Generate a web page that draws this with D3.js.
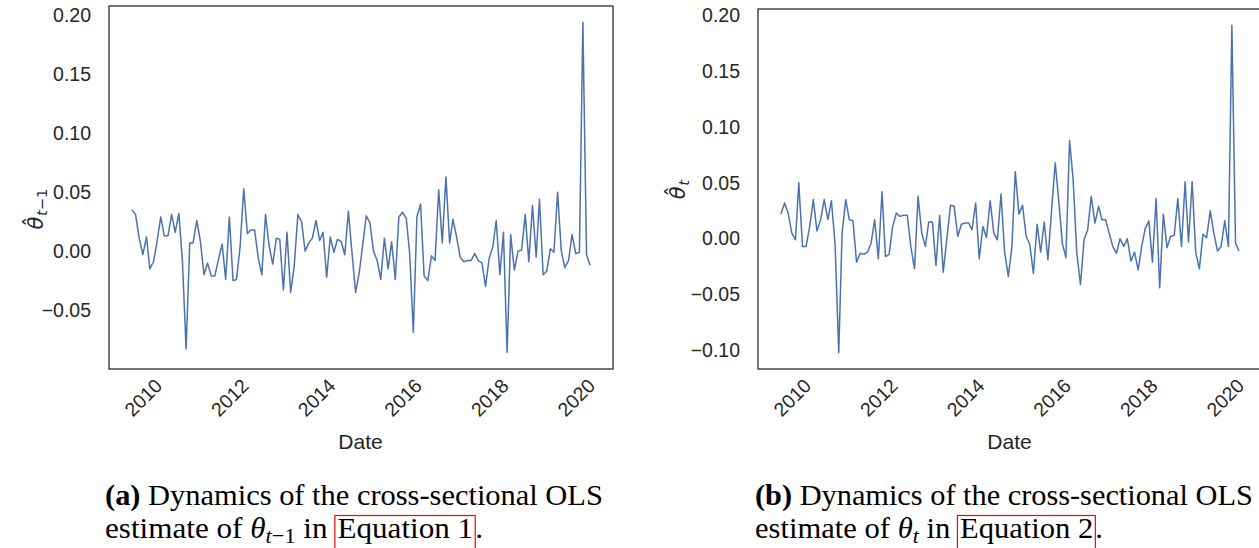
<!DOCTYPE html>
<html>
<head>
<meta charset="utf-8">
<script src="https://cdn.jsdelivr.net/npm/d3@7"></script>
<style>
  body { margin: 0; background: #fff; }
  svg { display: block; }
  text { white-space: pre; }
</style>
</head>
<body>
<svg id="fig" width="1259" height="548"></svg>
<script>
// ---- data -------------------------------------------------------------
const firstMonth = new Date(2009, 9, 1);   // Oct 2009
const lastMonth  = new Date(2020, 4, 1);   // May 2020
const yearTicks  = [2010, 2012, 2014, 2016, 2018, 2020];
const yTicksLag  = [-0.05, 0.00, 0.05, 0.10, 0.15, 0.20];
const yTicksNow  = [-0.10, -0.05, 0.00, 0.05, 0.10, 0.15, 0.20];

// monthly cross-sectional OLS estimate of theta_{t-1} (Equation 1)
const thetaLag = [
   0.035, 0.031, 0.011,-0.003, 0.012,-0.015,-0.009, 0.008, 0.029, 0.013,
   0.013, 0.031, 0.016, 0.032,-0.008,-0.083, 0.007, 0.007, 0.026, 0.009,
  -0.020,-0.010,-0.021,-0.021,-0.007, 0.006,-0.024, 0.029,-0.025,-0.024,
   0.004, 0.053, 0.015, 0.018, 0.018,-0.006,-0.020, 0.031, 0.005,-0.011,
   0.011, 0.010,-0.033, 0.016,-0.035,-0.013, 0.031, 0.025, 0.000, 0.007,
   0.011, 0.026, 0.009, 0.016,-0.022, 0.012,-0.001, 0.010, 0.008,-0.003,
   0.034,-0.002,-0.035,-0.018, 0.007, 0.030, 0.024, 0.000,-0.008,-0.024,
   0.011,-0.015, 0.008,-0.024, 0.029, 0.033, 0.028,-0.002,-0.069, 0.029,
   0.040,-0.021,-0.025,-0.004,-0.008, 0.052, 0.007, 0.063, 0.007, 0.027,
   0.012,-0.005,-0.009,-0.008,-0.008,-0.002,-0.008,-0.010,-0.030,-0.006,
   0.004, 0.026,-0.020, 0.016,-0.086, 0.014,-0.016, 0.000, 0.001, 0.031,
  -0.009, 0.039,-0.005, 0.044,-0.020,-0.017, 0.002,-0.001, 0.050, 0.000,
  -0.014,-0.008, 0.014,-0.002,-0.001, 0.194,-0.003,-0.012
];

// monthly cross-sectional OLS estimate of theta_t (Equation 2)
const thetaNow = [
   0.022, 0.032, 0.023, 0.005,-0.001, 0.050,-0.007,-0.007, 0.011, 0.035,
   0.007, 0.017, 0.035, 0.017, 0.034,-0.005,-0.102, 0.005, 0.035, 0.017,
   0.016,-0.021,-0.013,-0.014,-0.012,-0.004, 0.017,-0.018, 0.042,-0.016,
  -0.014, 0.011, 0.023, 0.020, 0.021, 0.021,-0.007,-0.027, 0.038, 0.005,
  -0.007, 0.015, 0.015,-0.024, 0.021,-0.030, 0.000, 0.030, 0.029, 0.002,
   0.013, 0.014, 0.014, 0.008, 0.032,-0.018, 0.011, 0.001, 0.034, 0.005,
  -0.001, 0.040,-0.012,-0.034,-0.007, 0.060, 0.022, 0.030, 0.002,-0.005,
  -0.031, 0.013,-0.012, 0.015,-0.019, 0.025, 0.068, 0.035,-0.004,-0.017,
   0.088, 0.053,-0.013,-0.041,-0.001, 0.008, 0.038, 0.014, 0.029, 0.017,
   0.017, 0.005,-0.007,-0.013, 0.000,-0.007, 0.000,-0.020,-0.012,-0.028,
  -0.006, 0.009, 0.016,-0.021, 0.036,-0.044, 0.022,-0.008, 0.002, 0.003,
   0.036,-0.007, 0.051,-0.003, 0.051,-0.012,-0.027, 0.004, 0.001, 0.025,
   0.005,-0.011,-0.007, 0.016,-0.007, 0.191,-0.004,-0.011
];

// ---- styling ------------------------------------------------------------
const ink = "#262626";
const lineColor = "#4c72b0";
const sans = "'Liberation Sans', Arial, sans-serif";
const serif = "'Liberation Serif', 'Times New Roman', serif";
const tickSize = 19.5;
const labelSize = 21;

const months = d3.timeMonth.range(firstMonth, d3.timeMonth.offset(lastMonth, 1));
const svg = d3.select("#fig");

function padded([lo, hi]) {
  const p = (hi - lo) * 0.05;
  return [lo - p, hi + p];
}

const panels = [
  { left: 109, top: 6, width: 504, bottom: 369, values: thetaLag, yTicks: yTicksLag,
    sub: [{ t: "t", it: true }, { t: "\u22121", it: false }],
    labelX: 35, labelY: 209,
    tag: "(a)", eq: "Equation 1", capX: 105, line2W: 378 },
  { left: 758, top: 9, width: 504, bottom: 369, values: thetaNow, yTicks: yTicksNow,
    sub: [{ t: "t", it: true }],
    labelX: 677, labelY: 189,
    tag: "(b)", eq: "Equation 2", capX: 755, line2W: 348 }
];

panels.forEach(p => {
  const g = svg.append("g");
  const series = months.map((d, i) => ({ date: d, v: p.values[i] }));

  const xDom = padded(d3.extent(months, d => +d));
  const x = d3.scaleTime().domain(xDom.map(v => new Date(v))).range([p.left, p.left + p.width]);
  const y = d3.scaleLinear().domain(padded(d3.extent(p.values))).range([p.bottom, p.top]);

  // y axis tick labels
  const ya = g.append("g")
    .attr("transform", `translate(${p.left},0)`)
    .call(d3.axisLeft(y).tickValues(p.yTicks).tickSize(0).tickPadding(18).tickFormat(d3.format(".2f")));
  ya.select(".domain").remove();
  ya.selectAll("text").attr("font-family", sans).attr("font-size", tickSize).attr("fill", ink);

  // x axis: rotated year labels
  const xa = g.append("g")
    .attr("transform", `translate(0,${p.bottom})`)
    .call(d3.axisBottom(x).tickValues(yearTicks.map(yr => new Date(yr, 0, 1)))
      .tickSize(0).tickFormat(d3.timeFormat("%Y")));
  xa.select(".domain").remove();
  xa.selectAll("text")
    .attr("font-family", sans).attr("font-size", tickSize).attr("fill", ink)
    .attr("y", 0).attr("dy", "0.35em")
    .attr("text-anchor", "middle")
    .attr("transform", "translate(0,28.5) rotate(-45)");

  // x axis title
  g.append("text")
    .attr("x", p.left + p.width / 2 - 0.5).attr("y", 442)
    .attr("dy", "0.35em").attr("text-anchor", "middle")
    .attr("font-family", sans).attr("font-size", labelSize).attr("fill", ink)
    .text("Date");

  // series line
  g.append("path").datum(series)
    .attr("fill", "none").attr("stroke", lineColor).attr("stroke-width", 1.5)
    .attr("stroke-linejoin", "round")
    .attr("d", d3.line().x(d => x(d.date)).y(d => y(d.v)));

  // axes frame
  g.append("rect")
    .attr("x", p.left).attr("y", p.top)
    .attr("width", p.width).attr("height", p.bottom - p.top)
    .attr("fill", "none").attr("stroke", ink).attr("stroke-width", 1.25);

  // y axis title: hat theta with subscript, rotated
  const outer = g.append("g")
    .attr("transform", `translate(${p.labelX},${p.labelY}) rotate(-90)`);
  const inner = outer.append("g");
  const fs = labelSize;
  const th = inner.append("text")
    .attr("font-family", "'DejaVu Sans', sans-serif").attr("font-size", fs)
    .attr("font-style", "italic").attr("fill", ink).text("\u03b8");
  const thW = th.node().getComputedTextLength();
  inner.append("text")
    .attr("x", thW / 2 + fs * 0.06).attr("y", -fs * 0.2)
    .attr("text-anchor", "middle")
    .attr("font-family", "'DejaVu Sans', sans-serif").attr("font-size", fs)
    .attr("fill", ink).text("\u02c6");
  const st = inner.append("text")
    .attr("x", thW + 0.5).attr("y", fs * 0.2)
    .attr("font-family", "'DejaVu Sans', sans-serif").attr("font-size", fs * 0.7)
    .attr("fill", ink);
  p.sub.forEach(s => st.append("tspan").attr("font-style", s.it ? "italic" : "normal").text(s.t));
  const bb = inner.node().getBBox();
  inner.attr("transform", `translate(${-(bb.x + bb.width / 2)},${-(bb.y + bb.height / 2)})`);

  // caption, line 1
  const capFs0 = 28;
  const l1 = svg.append("text")
    .attr("x", p.capX).attr("y", 505)
    .attr("font-family", serif).attr("font-size", capFs0).attr("fill", "#000");
  l1.append("tspan").attr("font-weight", "bold").text(p.tag);
  l1.append("tspan").text(" Dynamics of the cross-sectional OLS");
  const capFs = capFs0 * 498 / l1.node().getComputedTextLength();
  l1.attr("font-size", capFs);

  // caption, line 2 (built piece by piece, then stretched to the column width)
  const cap2 = svg.append("g");
  let cx = 0;
  const y2 = 538;
  function piece(txt, opts = {}) {
    const t = cap2.append("text")
      .attr("x", cx).attr("y", y2 + (opts.dy || 0))
      .attr("font-family", serif)
      .attr("font-size", opts.size || capFs)
      .attr("font-style", opts.it ? "italic" : "normal")
      .attr("fill", "#000").text(txt);
    const w = t.node().getComputedTextLength();
    const x0 = cx;
    cx += w;
    return [x0, cx];
  }
  piece("estimate of ");
  piece("\u03b8", { it: true });
  p.sub.forEach(s => piece(s.t, { it: s.it, size: capFs * 0.72, dy: capFs * 0.16 }));
  piece(" in ");
  cx += 2;
  const [eqL, eqR] = piece(p.eq);
  cx += 2;
  piece(".");
  const k = p.line2W / cx;
  cap2.attr("transform", `translate(${p.capX},0) scale(${k},1)`);
  svg.append("rect")
    .attr("x", p.capX + (eqL - 2.5) * k).attr("y", 515.5)
    .attr("width", (eqR - eqL + 4.5) * k).attr("height", 40)
    .attr("fill", "none").attr("stroke", "#ff0000").attr("stroke-width", 1.2);
});
</script>
</body>
</html>
